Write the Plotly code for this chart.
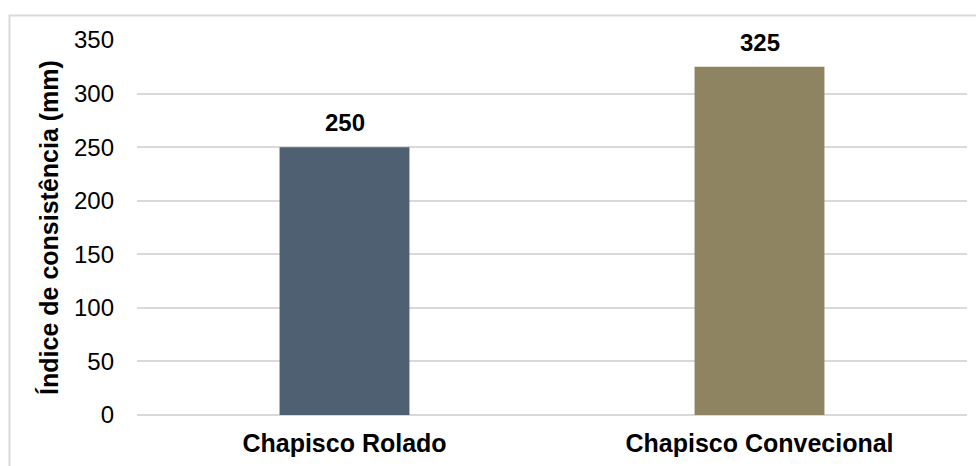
import plotly.graph_objects as go

categories = ["Chapisco Rolado", "Chapisco Convecional"]
values = [250, 325]
bar_colors = ["#4E6072", "#8E8462"]
y_ticks = [0, 50, 100, 150, 200, 250, 300, 350]
y_title = "Índice de consistência (mm)"

FONT = "Liberation Sans, Arial, sans-serif"

fig = go.Figure(
    go.Bar(
        x=categories,
        y=values,
        marker=dict(color=bar_colors, line=dict(width=0)),
        width=0.313,
        hoverinfo="x+y",
    )
)

# value labels above each bar
for cat, val in zip(categories, values):
    fig.add_annotation(
        x=cat,
        y=val,
        text="<b>%d</b>" % val,
        showarrow=False,
        yanchor="bottom",
        yshift=9,
        font=dict(family=FONT, size=24, color="#000000"),
    )

fig.update_layout(
    width=976,
    height=466,
    margin=dict(l=137, r=9, t=40, b=51),
    paper_bgcolor="white",
    plot_bgcolor="white",
    showlegend=False,
    font=dict(family=FONT, size=24, color="#000000"),
)

fig.update_xaxes(
    showgrid=False,
    showline=False,
    ticks="",
    tickfont=dict(family=FONT, size=25, color="#000000"),
    tickprefix="<b>",
    ticksuffix="</b>",
    ticklabelstandoff=11,
)

fig.update_yaxes(
    range=[0, 350],
    tickvals=y_ticks,
    showgrid=True,
    gridcolor="#D9D9D9",
    gridwidth=1.5,
    zeroline=True,
    zerolinecolor="#D9D9D9",
    zerolinewidth=1.5,
    showline=False,
    ticks="",
    tickfont=dict(family=FONT, size=24, color="#000000"),
    ticklabelstandoff=22,
    title=dict(
        text="<b>" + y_title + "</b>",
        font=dict(family=FONT, size=25, color="#000000"),
        standoff=8,
    ),
)

# outer chart frame
fig.add_shape(
    type="path",
    xref="paper",
    yref="paper",
    path="M 1.03,1.0653 L -0.1536,1.0653 L -0.1536,-0.2",
    line=dict(color="#D9D9D9", width=2),
    layer="below",
)

fig.write_html("out.html")
